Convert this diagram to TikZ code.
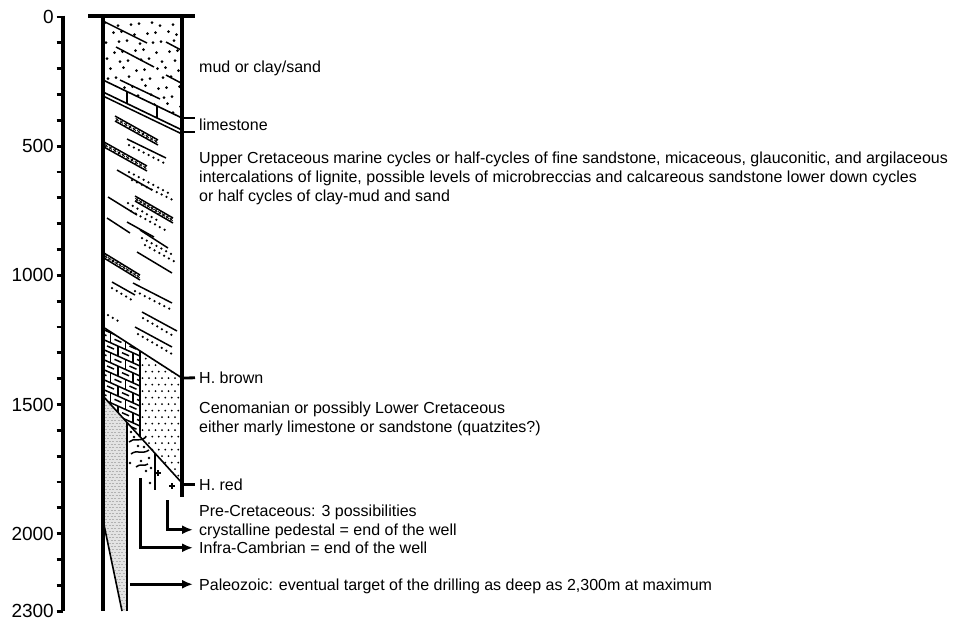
\documentclass[tikz,border=0pt]{standalone}
\usepackage{fontspec}
\setmainfont{Liberation Sans}
\usetikzlibrary{calc,arrows.meta}

% lignite / microbreccia band: two parallel lines with small crosses between
\newcommand{\crossband}[2]{%
  \draw[pat] #1 -- #2;
  \draw[pat] ($#1+(0,5)$) -- ($#2+(0,5)$);
  \foreach \t in {0.05,0.15,...,0.96} {
    \draw[xpat] ($#1!\t!#2+(-1.4,1.1)$) -- ++(2.8,2.8);
    \draw[xpat] ($#1!\t!#2+(-1.4,3.9)$) -- ++(2.8,-2.8);
  }%
}

\begin{document}
\begin{tikzpicture}[x=1pt,y=-1pt,
  wall/.style={line width=3.2pt},
  tk/.style={line width=2.8pt},
  bound/.style={line width=1.6pt},
  pat/.style={line width=1.5pt},
  xpat/.style={line width=0.8pt},
  dotrow/.style={line width=2.5pt,line cap=round,dash pattern=on 0pt off 5.5pt},
  graydash/.style={gray!60,line width=0.7pt,dash pattern=on 2pt off 1.5pt},
  arr/.style={line width=3pt,-{Latex[length=11pt,width=9pt]},shorten >=6pt},
  lbl/.style={anchor=base west,inner sep=0pt,font=\fontsize{16}{19}\selectfont,
              text height=11.5pt,text depth=0pt},
  depthlbl/.style={anchor=east,inner sep=0pt,font=\fontsize{19}{21}\selectfont}
]
\useasboundingbox (0,0) rectangle (959,622);
\fill[white] (0,0) rectangle (959,622);

% ---------------- depth scale (m) ----------------
\draw[wall] (63,15.5) -- (63,611);
\foreach \d in {0,100,...,2300}
  \draw[tk] (56.5,{17+0.2583*\d}) -- (63,{17+0.2583*\d});
\foreach \d in {0,500,1000,1500,2000,2300}
  \node[depthlbl] (z\d) at (54,{17+0.2583*\d}) {\d};

% ---------------- mud or clay/sand ----------------
\begin{scope}
  \clip (103,16) -- (182,16) -- (182,118) -- (103,80) -- cycle;
  \foreach \j in {0,...,10} \foreach \i in {0,...,7} {
    \pgfmathsetmacro\xx{107+11*\i+5.5*mod(\j,2)+mod(\i*7+\j*3,5)-2}
    \pgfmathsetmacro\yy{24+9*\j+mod(\i*3+\j*5,4)-1.5}
    \fill (\xx,\yy) circle[radius=1.5];
  }
\end{scope}
\draw[pat] (105,22) -- (147,43);
\draw[pat] (116,47) -- (154,67);
\draw[pat] (166,42) -- (181,50);
\draw[pat] (120,80) -- (160,99);
\draw[pat] (166,75) -- (181,83);

% ---------------- limestone bed ----------------
\draw[bound] (103,80) -- (182,118);
\draw[bound] (103,92) -- (182,130);
\draw[pat]   (103,96) -- (182,134);
\draw[pat] (127,91.5) -- (127,103.5);
\draw[pat] (157,106) -- (157,118);

% ---------------- Upper Cretaceous cycles ----------------
\crossband{(115,116)}{(158,140)}
\draw[pat] (127,139) -- (166,158);
\draw[dotrow] (129,145) -- (168,165);
\crossband{(104,142)}{(147,166)}
\draw[pat] (117,170) -- (152,190);
\draw[dotrow] (129,172) -- (172,195);
\draw[dotrow] (132,180) -- (175,201);
\draw[pat] (108,197) -- (137,215);
\crossband{(135,196)}{(173,218)}
\draw[dotrow] (128,203) -- (160,222);
\draw[dotrow] (131,211) -- (165,230);
\draw[pat] (107,218) -- (130,233);
\draw[pat] (127,222) -- (154,237);
\draw[pat] (140,230) -- (168,248);
\draw[dotrow] (142,238) -- (175,256);
\draw[dotrow] (145,245) -- (177,263);
\draw[pat] (137,252) -- (172,273);
\crossband{(104,253)}{(140,275)}
\draw[pat] (112,282) -- (135,295);
\draw[dotrow] (112,288) -- (135,302);
\draw[pat] (133,283) -- (172,303);
\draw[dotrow] (135,291) -- (170,309);
\draw[dotrow] (108,315) -- (120,322);
\draw[pat] (142,312) -- (177,331);
\draw[dotrow] (143,318) -- (175,337);
\draw[pat] (135,327) -- (172,347);
\draw[dotrow] (138,334) -- (172,354);

% ---------------- marly limestone (bricks) ----------------
\begin{scope}
  \clip (103,327) -- (140,351) -- (140,437) -- (103,396) -- cycle;
  \foreach \k in {-1,...,11} {
    \draw[pat] (100,{318+10*\k}) -- (145,{318+10*\k+20.25});
    \foreach \m in {-1,...,3} {
      \pgfmathsetmacro\bx{103+15*\m+7.5*mod(\k+20,2)}
      \pgfmathsetmacro\by{318+10*\k+(\bx-100)*0.45}
      \draw[pat] (\bx,\by) -- (\bx,\by+10);
      \draw[pat] (\bx+4,\by+6.6) -- (\bx+11,\by+9.7);
    }
  }
\end{scope}

% ---------------- sandstone (Cenomanian) ----------------
\begin{scope}
  \clip (140,351) -- (182,378) -- (182,483) -- (140,437) -- cycle;
  \foreach \j in {0,...,20} \foreach \i in {0,...,6}
    \fill ({142.5+6.5*\i+3.25*mod(\j,2)},{352+6.5*\j}) circle[radius=1];
\end{scope}

% ---------------- Paleozoic (grey) ----------------
\begin{scope}
  \clip (103,396) -- (127,422) -- (127,611) -- (122,611) -- (103,520) -- cycle;
  \fill[gray!22] (100,390) rectangle (130,615);
  \foreach \r in {0,...,75}
    \draw[graydash] ({100+mod(\r,2)*1.7},{396+3*\r}) -- (130,{396+3*\r});
\end{scope}
\draw[bound] (103,520) -- (122,611);
\draw[bound] (127,422) -- (127,611);

% ---------------- Infra-Cambrian and crystalline ----------------
\draw[pat] (129,442) .. controls (134,437) and (139,443) .. (146,437);
\draw[pat] (131,454) .. controls (137,449) and (142,455) .. (149,450);
\draw[pat] (136,467) .. controls (140,463) and (144,467) .. (148,464);
\foreach \p in {(131,432),(138,446),(144,447),(149,458),(141,461),(130,463),
                (146,471),(151,468),(150,483),(134,437)}
  \fill \p circle[radius=1.3];
\draw[pat] (155,453) -- (155,490);
\draw[line width=1.1pt] (155,473) -- (161,473) (158,470) -- (158,476);
\draw[line width=1.1pt] (169,486) -- (175,486) (172,483) -- (172,489);

% ---------------- horizons ----------------
\draw[bound] (103,327) -- (182,378);
\draw[bound] (140,351) -- (140,437);
\draw[bound] (103,396) -- (182,483);

% ---------------- well walls ----------------
\draw[wall] (88,16) -- (195,16);
\draw[wall] (103,16) -- (103,611);
\draw[wall] (182,16) -- (182,497);

% ---------------- labels ----------------
\node[lbl] (mud)   at (199,72.5)  {mud or clay/sand};
\node[lbl] (lime)  at (199,130.5) {limestone};
\node[lbl] (up1)   at (199,163.5) {Upper Cretaceous marine cycles or half-cycles of fine sandstone, micaceous, glauconitic, and argilaceous};
\node[lbl] (up2)   at (199,182.5) {intercalations of lignite, possible levels of microbreccias and calcareous sandstone lower down cycles};
\node[lbl] (up3)   at (199,201.5) {or half cycles of clay-mud and sand};
\node[lbl] (brown) at (199,383.5) {H. brown};
\node[lbl] (ceno1) at (199,413.5) {Cenomanian or possibly Lower Cretaceous};
\node[lbl] (ceno2) at (199,432.5) {either marly limestone or sandstone (quatzites?)};
\node[lbl] (red)   at (199,490)   {H. red};
\node[lbl] (pre)   at (199,516.5) {Pre-Cretaceous: 3 possibilities};
\node[lbl] (cryst) at (199,535.5) {crystalline pedestal = end of the well};
\node[lbl] (infra) at (199,553.5) {Infra-Cambrian = end of the well};
\node[lbl] (paleo) at (199,590)   {Paleozoic: eventual target of the drilling as deep as 2,300m at maximum};

% ---------------- horizon ticks ----------------
\draw[tk] (182,118) -- (195,118);
\draw[tk] (182,132) -- (195,132);
\draw[tk,shorten >=4pt] (182,378) -- (brown.west);
\draw[tk,shorten >=4pt] (182,484.25) -- (red.west);

% ---------------- arrows to the candidate end points ----------------
\draw[arr] (167,500) |- (cryst.west);
\draw[arr] (140,478) |- (infra.west);
\draw[arr] ($(paleo.west)+(-69,0)$) -- (paleo.west);
\end{tikzpicture}
\end{document}
